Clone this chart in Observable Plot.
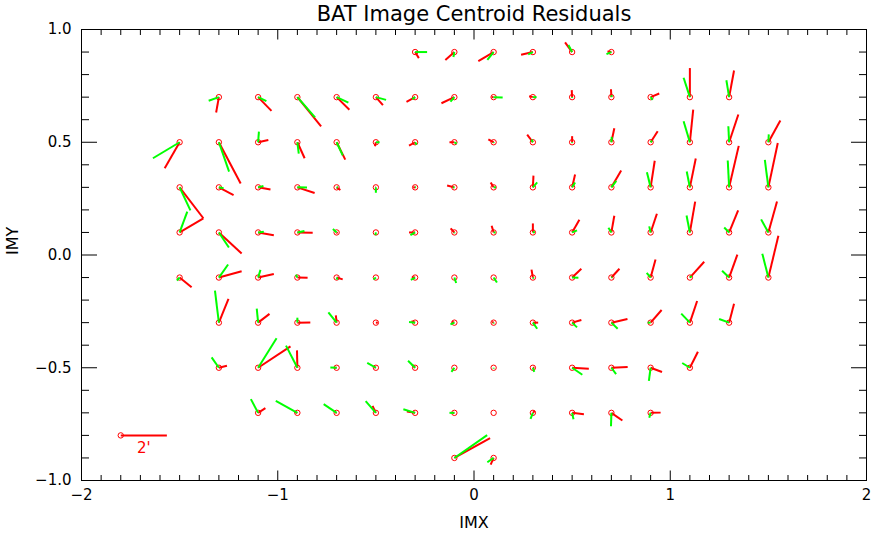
<!DOCTYPE html>
<html>
<head>
<meta charset="utf-8">
<script src="https://cdn.jsdelivr.net/npm/d3@7"></script>
<script src="https://cdn.jsdelivr.net/npm/@observablehq/plot@0.6"></script>
<style>
  html, body { margin: 0; padding: 0; background: white; }
  #chart svg { display: block; }
</style>
</head>
<body>
<div id="chart"></div>
<script>
// ---- Data (IMX / IMY grid positions and centroid residual vectors, in IMX/IMY units) ----
const titleText = "BAT Image Centroid Residuals";
const xLabel = "IMX";
const yLabel = "IMY";

const rowY = [0.9, 0.7, 0.5, 0.3, 0.1, -0.1, -0.3, -0.5, -0.7, -0.9];
const fullRow = [-1.5,-1.3,-1.1,-0.9,-0.7,-0.5,-0.3,-0.1,0.1,0.3,0.5,0.7,0.9,1.1,1.3,1.5];
const rowX = [
  [-0.3,-0.1,0.1,0.3,0.5,0.7],
  [-1.3,-1.1,-0.9,-0.7,-0.5,-0.3,-0.1,0.1,0.3,0.5,0.7,0.9,1.1,1.3],
  fullRow,
  fullRow,
  fullRow,
  fullRow,
  [-1.3,-1.1,-0.9,-0.7,-0.5,-0.3,-0.1,0.1,0.3,0.5,0.7,0.9,1.1,1.3],
  [-1.3,-1.1,-0.9,-0.7,-0.5,-0.3,-0.1,0.1,0.3,0.5,0.7,0.9,1.1],
  [-1.1,-0.9,-0.7,-0.5,-0.3,-0.1,0.1,0.3,0.5,0.7,0.9],
  [-0.1,0.1]
];

// red residual vectors
const redDX = [
  [0.019,-0.046,-0.078,-0.060,-0.036,-0.020],
  [-0.014,0.068,0.121,0.065,0.036,-0.044,-0.066,-0.010,-0.019,-0.002,-0.002,0.044,0,0.025],
  [-0.076,0.111,0.052,0.037,0.044,-0.005,-0.031,-0.025,-0.027,-0.029,0,0.015,0.036,0.017,0.047,0.061],
  [0.121,0.075,0.063,0.088,0.019,-0.003,-0.010,-0.037,-0.015,0.003,0.015,0.050,0.021,0.030,0.049,0.048],
  [0.121,0.116,0.080,0.078,0.005,0,-0.031,-0.019,-0.010,0,0.037,0.015,0.032,0.027,0.046,0.044],
  [0.061,0.116,0.080,0.052,0.031,0,-0.017,0,0,-0.007,0.047,0.041,0.025,0.073,0.042,0.051],
  [0.049,0.058,0.066,-0.004,0.010,-0.019,-0.013,-0.008,0.027,0.047,0.082,0.056,0.037,0.025],
  [0.041,0.165,-0.002,-0.013,-0.010,-0.015,0,0,0.008,0.085,0.083,0.058,0.041],
  [0.037,-0.015,-0.005,-0.017,-0.042,-0.008,0,0.010,0.060,0.056,0.051],
  [0.182,-0.015]
];
const redDY = [
  [-0.027,-0.035,-0.040,-0.012,0.043,0.002],
  [-0.068,-0.061,-0.130,-0.056,-0.035,-0.021,-0.027,0,0.004,0.031,0.035,0.016,0.129,0.118],
  [-0.115,-0.183,0.010,-0.071,-0.077,-0.018,-0.015,0,0.013,0.034,0.027,0.062,0.049,0.145,0.123,0.096],
  [-0.137,-0.034,-0.010,-0.025,-0.012,0,0,0.008,0.022,0.052,0.057,0.075,0.118,0.128,0.184,0.197],
  [0.062,-0.093,-0.012,-0.001,-0.004,0,0,0.018,0.030,0.040,0.056,0.074,0.083,0.137,0.098,0.137],
  [-0.043,0.028,0.016,-0.001,-0.008,0,0.001,0,0,0.035,0.039,0.039,0.080,0.070,0.102,0.185],
  [0.105,0.039,0.001,0.032,0,0.006,0.004,0.004,0,0.012,0.016,0.056,0.096,0.084],
  [0.009,0.095,0.077,0,0.004,0.013,0,0,0,-0.004,0.003,-0.019,0.071],
  [0.021,0.004,0,0.031,0.006,0,0,0.009,-0.006,-0.034,0.001],
  [0.088,-0.030]
];

// green residual vectors
const greenDX = [
  [0.061,-0.005,-0.032,-0.024,-0.019,-0.025],
  [-0.052,0.042,0.090,0.060,0.052,-0.015,-0.020,0.046,0.019,0,0.002,0.010,-0.032,-0.014],
  [-0.136,0.052,0.004,0.007,0.031,0.019,0.008,0.012,0,-0.007,0,0.002,0.007,-0.032,-0.004,0.002],
  [0.055,0.024,0.027,0.049,0.007,0,0.005,-0.008,0.012,0.022,0.015,0.025,-0.019,-0.016,-0.007,-0.018],
  [0.039,0.051,0.029,0.036,-0.019,-0.002,-0.024,0,0.010,0.010,0.025,-0.015,-0.007,-0.017,-0.025,-0.037],
  [-0.014,0.047,0.012,-0.007,0.005,-0.012,-0.022,0.009,0.017,0.005,0.032,0.005,-0.020,0.010,-0.036,-0.031],
  [-0.020,-0.007,0,-0.042,0,-0.031,-0.020,0,0.022,0.025,0.032,-0.015,-0.044,-0.051],
  [-0.037,0.094,-0.058,-0.032,-0.044,-0.036,-0.015,0,0.007,0.052,0.024,-0.009,-0.039],
  [-0.037,-0.110,-0.066,-0.052,-0.060,-0.025,0,-0.012,0.007,-0.002,-0.007],
  [0.167,-0.032]
];
const greenDY = [
  [0,-0.022,-0.035,-0.010,0.031,-0.009],
  [-0.016,-0.018,-0.090,-0.024,-0.012,-0.009,-0.020,-0.001,0,-0.004,0.009,-0.012,0.086,0.075],
  [-0.071,-0.130,0.047,-0.050,-0.058,0,-0.011,-0.006,-0.004,0.012,-0.004,0.024,0.007,0.093,0.071,0.035],
  [-0.102,-0.004,0.006,-0.001,-0.001,-0.024,0,-0.001,0,0.022,0.022,0.029,0.067,0.070,0.119,0.122],
  [0.092,-0.067,0.003,0.006,0.015,-0.012,-0.012,-0.004,0,0.003,0.009,0.021,0.027,0.075,0.022,0.058],
  [-0.013,0.058,0.034,0.013,-0.009,-0.009,-0.010,-0.024,-0.022,-0.004,-0.001,0.002,0.021,0.007,0.030,0.106],
  [0.142,0.062,0.022,0.046,0,0.003,-0.008,-0.004,-0.027,-0.021,-0.027,0,0.040,0.016],
  [0.046,0.131,0.098,0.001,0.022,0.031,-0.018,-0.004,-0.018,-0.031,-0.028,-0.058,0.021],
  [0.061,0.053,0.039,0.052,0.016,0,0,-0.027,-0.028,-0.059,-0.022],
  [0.101,-0.019]
];

// scale bar: 2 arcmin
const scaleBarX = [-1.8];
const scaleBarY = [-0.8];
const scaleBarLength = [0.235];
const scaleBarLabel = ["2'"];

// axis ticks
const xMajorTicks = [-2, -1, 0, 1, 2];
const xMinorTicks = d3.range(-20, 21).filter(i => i % 10 !== 0).map(i => i / 10);
const yMajorTicks = [-1.0, -0.5, 0.0, 0.5, 1.0];
const yMinorTicks = d3.range(-10, 11).filter(i => i % 5 !== 0).map(i => i / 10);

// ---- Build table ----
const points = rowY.flatMap((y, r) => rowX[r].map((x, i) => ({
  x, y,
  rdx: redDX[r][i], rdy: redDY[r][i],
  gdx: greenDX[r][i], gdy: greenDY[r][i]
})));
const scaleBar = scaleBarX.map((x, i) => ({x, y: scaleBarY[i], len: scaleBarLength[i], label: scaleBarLabel[i]}));

const fmtX = v => (v < 0 ? "\u2212" : "") + Math.abs(v).toFixed(0);
const fmtY = v => (v < 0 ? "\u2212" : "") + Math.abs(v).toFixed(1);
const blank = () => "";

const chart = Plot.plot({
  width: 877,
  height: 535,
  marginLeft: 81,
  marginRight: 11,
  marginTop: 29,
  marginBottom: 55,
  x: {domain: [-2, 2], label: null},
  y: {domain: [-1, 1], label: null},
  style: {fontFamily: "DejaVu Sans, sans-serif", fontSize: "15px", color: "black", background: "white"},
  marks: [
    Plot.frame({stroke: "black", strokeWidth: 1}),
    // inward ticks, all four sides
    Plot.axisX(xMajorTicks, {anchor: "bottom", tickSize: -9.5, tickFormat: blank, label: null}),
    Plot.axisX(xMinorTicks, {anchor: "bottom", tickSize: -5, tickFormat: blank, label: null}),
    Plot.axisX(xMajorTicks, {anchor: "top", tickSize: -9.5, tickFormat: blank, label: null}),
    Plot.axisX(xMinorTicks, {anchor: "top", tickSize: -5, tickFormat: blank, label: null}),
    Plot.axisY(yMajorTicks, {anchor: "left", tickSize: -16, tickFormat: blank, label: null}),
    Plot.axisY(yMinorTicks, {anchor: "left", tickSize: -8, tickFormat: blank, label: null}),
    Plot.axisY(yMajorTicks, {anchor: "right", tickSize: -16, tickFormat: blank, label: null}),
    Plot.axisY(yMinorTicks, {anchor: "right", tickSize: -8, tickFormat: blank, label: null}),
    // tick labels
    Plot.axisX(xMajorTicks, {anchor: "bottom", tickSize: 0, tickPadding: 9, tickFormat: fmtX, label: null, fontSize: 15}),
    Plot.axisY(yMajorTicks, {anchor: "left", tickSize: 0, tickPadding: 10, tickFormat: fmtY, label: null, fontSize: 15}),
    // residual markers
    Plot.dot(points, {x: "x", y: "y", r: 2.7, stroke: "#ff0000", strokeWidth: 1, fill: "none"}),
    Plot.link(points, {x1: "x", y1: "y", x2: d => d.x + d.rdx, y2: d => d.y + d.rdy, stroke: "#ff0000", strokeWidth: 2}),
    Plot.link(points, {x1: "x", y1: "y", x2: d => d.x + d.gdx, y2: d => d.y + d.gdy, stroke: "#00ff00", strokeWidth: 2}),
    // scale bar
    Plot.dot(scaleBar, {x: "x", y: "y", r: 2.7, stroke: "#ff0000", strokeWidth: 1, fill: "none"}),
    Plot.link(scaleBar, {x1: "x", y1: "y", x2: d => d.x + d.len, y2: "y", stroke: "#ff0000", strokeWidth: 2}),
    Plot.text(scaleBar, {x: d => d.x + d.len / 2, y: "y", text: "label", dy: 13, fill: "#ff0000", fontSize: 15}),
    // title and axis labels
    Plot.text([titleText], {frameAnchor: "top", lineAnchor: "middle", dy: -15, fontSize: 21, fill: "black"}),
    Plot.text([xLabel], {frameAnchor: "bottom", lineAnchor: "middle", dy: 42, fontSize: 16, fill: "black"}),
    Plot.text([yLabel], {frameAnchor: "left", lineAnchor: "middle", dx: -69, rotate: -90, fontSize: 16, fill: "black"})
  ]
});
document.getElementById("chart").append(chart);
</script>
</body>
</html>
